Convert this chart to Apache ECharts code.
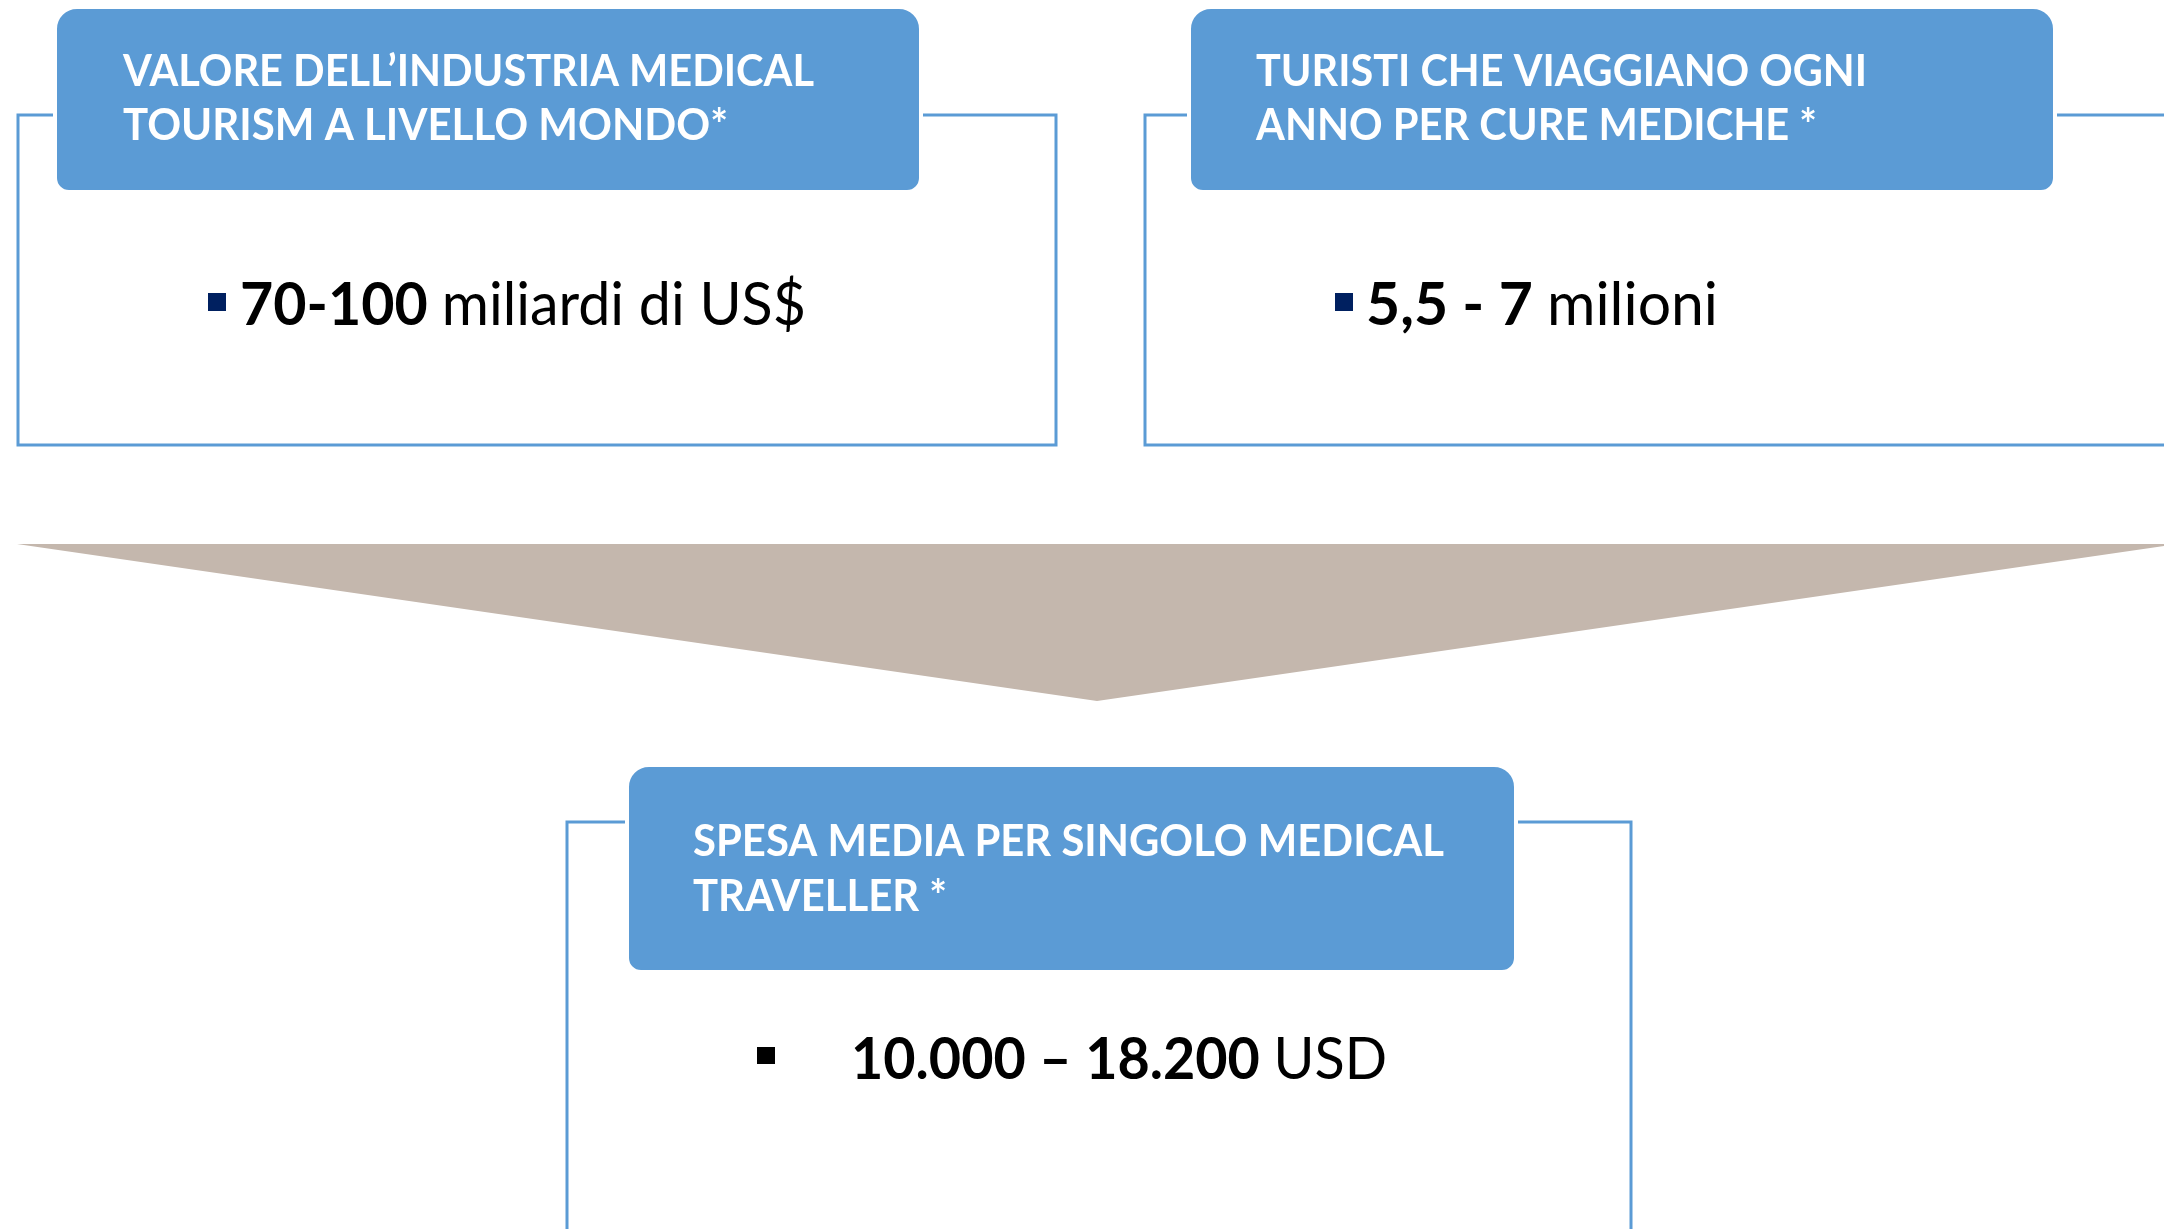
<!DOCTYPE html>
<html>
<head>
<meta charset="utf-8">
<script src="https://cdn.jsdelivr.net/npm/echarts@6/dist/echarts.min.js"></script>
<style>html,body{margin:0;padding:0;background:#fff;}#c{width:2164px;height:1229px;}</style>
</head>
<body>
<div id="c"></div>
<script>
// ---- content ----
const headerLines = [
  ["VALORE DELL\u2019INDUSTRIA MEDICAL", "TOURISM A LIVELLO MONDO*"],
  ["TURISTI CHE VIAGGIANO OGNI", "ANNO PER CURE MEDICHE *"],
  ["SPESA MEDIA PER SINGOLO MEDICAL", "TRAVELLER *"]
];
const valuesBold = ["70-100", "5,5 - 7", "10.000 \u2013 18.200"];
const valuesUnit = ["miliardi di US$", "milioni", "USD"];

// ---- layout ----
const FONT = "Lato, 'Open Sans', sans-serif";
const BLUE = "#5B9BD5";
const panels = [
  {frame:[18,115,1056,445], header:[55,7,921,192], textX:123, lineMid:[70,124], lineW:[691,605], hdrFont:43,
   bullet:[208,293,18,18,"#002060"], valX:240, valMid:304, valW:566, valFont:60},
  {frame:[1145,115,2230,445], header:[1189,7,2055,192], textX:1256, lineMid:[70,124], lineW:[611,561], hdrFont:43,
   bullet:[1335,293,18,18,"#002060"], valX:1366, valMid:304, valW:352, valFont:60},
  {frame:[567,822,1631,1300], header:[627,765,1516,972], textX:693, lineMid:[840,895], lineW:[751,254], hdrFont:44,
   bullet:[757,1047,18,17,"#000000"], valX:851, valMid:1058, valW:536, valFont:58}
];

const cv = document.createElement("canvas").getContext("2d");
function measure(text, size, weight) {
  cv.font = weight + " " + size + "px " + FONT;
  return cv.measureText(text).width;
}

const elements = [];
// triangle arrow
elements.push({type:"polygon", z:1, shape:{points:[[17,544],[2177,544],[1097,701]]}, style:{fill:"#C4B7AD"}});

panels.forEach((p, i) => {
  const [fx1, fy1, fx2, fy2] = p.frame;
  elements.push({type:"rect", z:2, shape:{x:fx1, y:fy1, width:fx2-fx1, height:fy2-fy1},
    style:{fill:"none", stroke:BLUE, lineWidth:3}});
  const [hx1, hy1, hx2, hy2] = p.header;
  elements.push({type:"rect", z:3, shape:{x:hx1, y:hy1, width:hx2-hx1, height:hy2-hy1, r:[22,22,14,14]},
    style:{fill:BLUE, stroke:"#ffffff", lineWidth:4}});
  headerLines[i].forEach((line, k) => {
    const w = measure(line, p.hdrFont, "bold");
    const s = p.lineW[k] / w;
    elements.push({type:"text", z:4, x:p.textX, y:p.lineMid[k] + 2, scaleX:s,
      style:{text:line, x:0, y:0, fill:"#ffffff", font:"bold " + p.hdrFont + "px " + FONT,
        textAlign:"left", textVerticalAlign:"middle", verticalAlign:"middle"}});
  });
  const [bx, by, bw, bh, bc] = p.bullet;
  elements.push({type:"rect", z:4, shape:{x:bx, y:by, width:bw, height:bh}, style:{fill:bc}});
  const boldTxt = valuesBold[i] + " ";
  const wb = measure(boldTxt, p.valFont, "bold");
  const wu = measure(valuesUnit[i], p.valFont, "normal");
  const s = p.valW / (wb + wu);
  elements.push({type:"text", z:4, x:p.valX, y:p.valMid + 2, scaleX:s,
    style:{text:boldTxt, x:0, y:0, fill:"#000000", font:"bold " + p.valFont + "px " + FONT,
      textAlign:"left", textVerticalAlign:"middle", verticalAlign:"middle"}});
  elements.push({type:"text", z:4, x:p.valX + wb * s, y:p.valMid + 2, scaleX:s,
    style:{text:valuesUnit[i], x:0, y:0, fill:"#000000", font:"normal " + p.valFont + "px " + FONT,
      textAlign:"left", textVerticalAlign:"middle", verticalAlign:"middle"}});
});

const chart = echarts.init(document.getElementById("c"), null, {renderer:"canvas"});
chart.setOption({
  backgroundColor:"#ffffff",
  animation:false,
  graphic:{elements:elements},
  series:[]
});
</script>
</body>
</html>
